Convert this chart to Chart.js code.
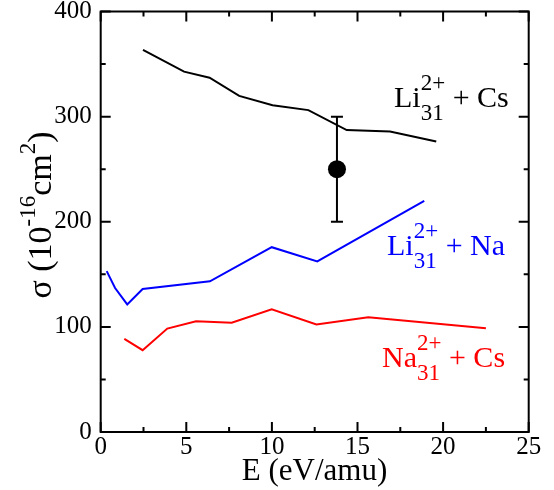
<!DOCTYPE html>
<html>
<head>
<meta charset="utf-8">
<script src="https://cdn.jsdelivr.net/npm/chart.js@4"></script>
<style>
  html, body { margin: 0; padding: 0; background: #fff; }
  #wrap { width: 554px; height: 490px; }
</style>
</head>
<body>
<div id="wrap"><canvas id="c" width="554" height="490"></canvas></div>
<script>
// ---- data ----
const liCsE   = [2.47, 4.87, 6.36, 8.09, 10.04, 12.13, 14.37, 16.9, 19.6];
const liCsSig = [363.5, 342.8, 337.0, 319.7, 310.9, 306.2, 287.2, 285.9, 276.4];

const liNaE   = [0.35, 0.84, 1.55, 2.45, 6.38, 9.99, 12.65, 18.9];
const liNaSig = [153.0, 137.0, 121.4, 136.0, 143.3, 175.8, 162.2, 219.8];

const naCsE   = [1.38, 2.45, 3.89, 5.57, 7.65, 9.99, 12.6, 15.63, 22.5];
const naCsSig = [88.5, 77.8, 98.4, 105.3, 104.0, 116.7, 102.2, 109.1, 98.7];

const expE    = [13.8];
const expSig  = [250];
const expErr  = [50];

const xTicks = [0, 5, 10, 15, 20, 25];
const yTicks = [0, 100, 200, 300, 400];

const toPts = (xs, ys) => xs.map((x, i) => ({ x: x, y: ys[i] }));

const SERIF = '"Liberation Serif", "DejaVu Serif", serif';

const framePlugin = {
  id: 'frame',
  afterDatasetsDraw(chart) {
    const { ctx, chartArea: a, scales } = chart;
    const xs = scales.x, ys = scales.y;
    ctx.save();
    ctx.strokeStyle = '#000';
    // error bar
    ctx.lineWidth = 2;
    expE.forEach((e, i) => {
      const px = xs.getPixelForValue(e);
      const top = ys.getPixelForValue(expSig[i] + expErr[i]);
      const bot = ys.getPixelForValue(expSig[i] - expErr[i]);
      ctx.beginPath();
      ctx.moveTo(px, top); ctx.lineTo(px, bot);
      ctx.moveTo(px - 6, top); ctx.lineTo(px + 6, top);
      ctx.moveTo(px - 6, bot); ctx.lineTo(px + 6, bot);
      ctx.stroke();
    });
    // frame
    ctx.lineWidth = 2;
    ctx.strokeRect(a.left, a.top, a.right - a.left, a.bottom - a.top);
    // inward ticks
    ctx.lineWidth = 2;
    ctx.beginPath();
    for (let v = 0; v <= 25; v += 2.5) {
      const px = xs.getPixelForValue(v);
      const len = (Math.abs(v % 5) < 1e-9) ? 10 : 5;
      ctx.moveTo(px, a.bottom); ctx.lineTo(px, a.bottom - len);
      ctx.moveTo(px, a.top); ctx.lineTo(px, a.top + len);
    }
    for (let v = 0; v <= 400; v += 50) {
      const py = ys.getPixelForValue(v);
      const len = (v % 100 === 0) ? 10 : 5;
      ctx.moveTo(a.left, py); ctx.lineTo(a.left + len, py);
      ctx.moveTo(a.right, py); ctx.lineTo(a.right - len, py);
    }
    ctx.stroke();
    ctx.restore();
  },
  afterDraw(chart) {
    const { ctx } = chart;
    const font = (s) => s + 'px ' + SERIF;

    function drawRich(x, y, parts, color) {
      ctx.save();
      ctx.fillStyle = color;
      ctx.textBaseline = 'alphabetic';
      ctx.textAlign = 'left';
      let cx = x;
      parts.forEach(p => {
        if (p.sub !== undefined || p.sup !== undefined) {
          let w = 0;
          ctx.font = font(p.size);
          ctx.fillText(p.sub, cx, y + p.subDy);
          w = Math.max(w, ctx.measureText(p.sub).width);
          ctx.fillText(p.sup, cx, y - p.supDy);
          w = Math.max(w, ctx.measureText(p.sup).width);
          cx += w;
        } else {
          ctx.font = font(p.size);
          ctx.fillText(p.t, cx, y);
          cx += ctx.measureText(p.t).width;
        }
      });
      ctx.restore();
    }

    const ion = (el, tail) => [
      { t: el, size: 30 },
      { sub: '31', sup: '2+', size: 23, subDy: 13, supDy: 17 },
      { t: ' + ' + tail, size: 30 }
    ];
    drawRich(394, 107, ion('Li', 'Cs'), '#000');
    drawRich(387, 255, ion('Li', 'Na'), '#0000ff');
    drawRich(382, 367, ion('Na', 'Cs'), '#ff0000');

    // x axis title
    ctx.save();
    ctx.fillStyle = '#000';
    ctx.font = font(31);
    ctx.textAlign = 'center';
    ctx.textBaseline = 'alphabetic';
    ctx.fillText('E (eV/amu)', 314.5, 480);
    ctx.restore();

    // y axis title (rotated)
    ctx.save();
    ctx.translate(51, 215);
    ctx.rotate(-Math.PI / 2);
    ctx.fillStyle = '#000';
    ctx.textBaseline = 'alphabetic';
    const segs = [
      { t: 'σ (10', size: 34, dy: 0 },
      { t: '-16', size: 23, dy: -16 },
      { t: 'cm', size: 34, dy: 0 },
      { t: '2', size: 23, dy: -16 },
      { t: ')', size: 34, dy: 0 }
    ];
    let total = 0;
    segs.forEach(s => { ctx.font = font(s.size); s.w = ctx.measureText(s.t).width; total += s.w; });
    let cx = -total / 2;
    segs.forEach(s => { ctx.font = font(s.size); ctx.fillText(s.t, cx, s.dy); cx += s.w; });
    ctx.restore();
  }
};

new Chart(document.getElementById('c'), {
  type: 'scatter',
  data: {
    datasets: [
      { data: toPts(liCsE, liCsSig), showLine: true, borderColor: '#000', borderWidth: 2, pointRadius: 0, tension: 0 },
      { data: toPts(liNaE, liNaSig), showLine: true, borderColor: '#0000ff', borderWidth: 2, pointRadius: 0, tension: 0 },
      { data: toPts(naCsE, naCsSig), showLine: true, borderColor: '#ff0000', borderWidth: 2, pointRadius: 0, tension: 0 },
      { data: toPts(expE, expSig), showLine: false, pointRadius: 9, pointBackgroundColor: '#000', pointBorderColor: '#000', pointBorderWidth: 0 }
    ]
  },
  options: {
    responsive: false,
    animation: false,
    events: [],
    layout: { padding: { left: 0, right: 25.3, top: 11.5, bottom: 0 } },
    plugins: { legend: { display: false }, tooltip: { enabled: false }, title: { display: false } },
    scales: {
      x: {
        type: 'linear', min: 0, max: 25,
        afterBuildTicks: (s) => { s.ticks = xTicks.map(v => ({ value: v })); },
        ticks: { font: { family: SERIF, size: 25 }, color: '#000', padding: 0, maxRotation: 0, autoSkip: false },
        grid: { display: false, drawTicks: false },
        border: { display: false },
        afterFit: (s) => { s.height = 58; s.paddingLeft = 0; s.paddingRight = 0; }
      },
      y: {
        type: 'linear', min: 0, max: 400,
        afterBuildTicks: (s) => { s.ticks = yTicks.map(v => ({ value: v })); },
        ticks: { font: { family: SERIF, size: 25 }, color: '#000', padding: 9, autoSkip: false },
        grid: { display: false, drawTicks: false },
        border: { display: false },
        afterFit: (s) => { s.width = 100.7; s.paddingTop = 0; s.paddingBottom = 0; }
      }
    }
  },
  plugins: [framePlugin]
});
</script>
</body>
</html>
